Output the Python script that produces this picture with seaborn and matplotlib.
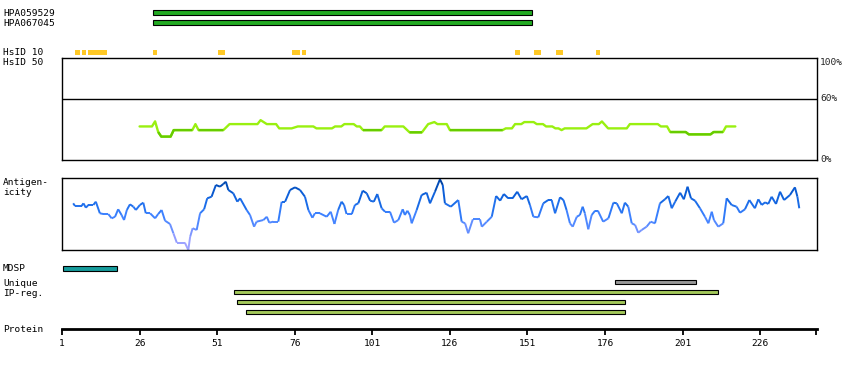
import numpy as np
import matplotlib
matplotlib.use("Agg")
import matplotlib.pyplot as plt
import seaborn as sns
from matplotlib.collections import LineCollection
from matplotlib.colors import LinearSegmentedColormap

# ---------------- data ----------------
antibody_names = ["HPA059529", "HPA067045"]
antibody_start = [30.4, 30.4]
antibody_end = [152.5, 152.5]

hsid10_start = [5.2, 7.5, 9.4, 30.3, 51.3, 75.1, 78.3, 147.0, 153.1, 160.2, 173.1]
hsid10_end = [6.8, 8.8, 15.5, 31.6, 53.5, 77.7, 79.6, 148.6, 155.4, 162.5, 174.4]

ident_pos = [26, 30, 31, 32, 33, 36, 37, 43, 44, 45,
             53, 55, 64, 65, 67, 70, 71, 75, 77, 82,
             83, 88, 89, 91, 92, 95, 96, 97, 98, 104,
             105, 111, 113, 117, 119, 121, 122, 125, 126, 143,
             144, 146, 147, 149, 150, 153, 154, 156, 157, 159,
             160, 161, 162, 163, 170, 172, 174, 175, 177, 183,
             184, 193, 194, 196, 197, 202, 203, 210, 211, 214,
             215, 218]
ident_val = [33.0, 33.0, 38.0, 27.5, 23.0, 23.0, 29.4, 29.4, 35.3, 29.4,
             29.4, 35.3, 35.3, 39.2, 35.3, 35.3, 31.1, 31.1, 33.0, 33.0,
             31.1, 31.1, 33.0, 33.0, 35.3, 35.3, 33.0, 33.0, 29.4, 29.4,
             33.0, 33.0, 27.2, 27.2, 35.3, 37.3, 35.3, 35.3, 29.4, 29.4,
             31.1, 31.1, 35.3, 35.3, 37.3, 37.3, 35.3, 35.3, 33.0, 33.0,
             31.1, 31.1, 29.4, 31.1, 31.1, 35.3, 35.3, 37.9, 31.1, 31.1,
             35.3, 35.3, 33.0, 33.0, 27.5, 27.5, 25.2, 25.2, 27.5, 27.5,
             33.0, 33.0]

antigen_pos = [
    4.6, 5.2, 7.3, 7.9, 8.7, 9.5, 11.1, 11.9, 13.2, 14.3,
    15.9, 17.0, 18.1, 19.1, 20.2, 21.0, 21.9, 22.9, 24.0, 24.8,
    26.1, 27.2, 28.0, 29.4, 31.0, 32.0, 33.1, 34.2, 35.8, 36.9,
    38.0, 40.6, 41.7, 42.3, 43.1, 44.4, 45.5, 46.8, 47.8, 49.2,
    50.6, 51.9, 53.0, 53.8, 54.6, 56.2, 57.5, 58.4, 60.5, 61.6,
    62.9, 63.7, 65.9, 67.0, 67.8, 69.1, 70.7, 71.8, 72.9, 74.5,
    76.1, 77.7, 79.3, 80.4, 81.7, 82.5, 84.1, 86.3, 87.6, 88.8,
    90.0, 91.1, 91.9, 92.7, 94.4, 95.4, 96.5, 97.9, 99.2, 100.3,
    101.5, 102.6, 104.0, 105.1, 106.7, 108.0, 109.4, 110.8, 111.5, 112.3,
    113.1, 113.7, 115.3, 116.9, 118.5, 119.6, 121.2, 122.8, 123.7, 124.4,
    126.3, 128.7, 129.8, 130.9, 131.9, 133.4, 135.7, 136.3, 137.9, 139.5,
    140.9, 142.2, 143.4, 144.8, 146.2, 147.7, 149.1, 150.8, 151.8, 152.9,
    154.5, 156.1, 157.7, 158.8, 159.9, 161.5, 162.6, 163.6, 164.7, 165.6,
    166.9, 167.9, 168.8, 169.5, 170.6, 171.7, 172.8, 173.7, 175.4, 177.1,
    178.7, 179.8, 181.4, 182.4, 183.5, 184.6, 185.7, 186.7, 187.8, 189.4,
    190.7, 192.1, 193.7, 195.3, 196.4, 197.5, 198.6, 200.2, 201.4, 202.6,
    203.7, 205.0, 206.6, 208.2, 209.3, 210.4, 211.1, 212.5, 214.1, 215.2,
    216.8, 218.4, 219.5, 221.1, 222.5, 224.3, 225.4, 226.5, 227.6, 228.6,
    229.7, 231.1, 232.4, 233.7, 235.6, 237.2, 238.0, 238.6]
antigen_val = [
    65.1, 61.4, 61.4, 65.1, 59.0, 62.8, 62.8, 67.4, 51.2, 50.2,
    50.2, 44.2, 46.4, 56.8, 48.8, 41.8, 55.8, 63.7, 60.4, 55.8,
    62.8, 66.0, 51.2, 51.2, 44.2, 50.2, 55.8, 40.9, 36.3, 23.3,
    10.2, 10.2, 0.0, 18.5, 30.3, 27.9, 51.2, 56.8, 72.1, 74.3,
    90.7, 88.3, 92.1, 95.3, 83.7, 79.1, 67.4, 72.1, 55.8, 48.8,
    32.5, 39.5, 41.8, 46.4, 38.1, 39.5, 39.5, 67.4, 67.4, 83.7,
    87.4, 83.7, 74.3, 55.8, 45.0, 51.2, 51.2, 46.4, 53.4, 36.3,
    55.8, 67.4, 62.8, 50.2, 50.2, 62.8, 65.1, 82.7, 79.1, 68.8,
    67.4, 78.1, 58.2, 53.4, 53.4, 38.1, 41.8, 56.8, 48.8, 54.8,
    48.8, 37.2, 55.8, 76.7, 79.9, 65.1, 81.3, 98.6, 90.7, 65.1,
    60.4, 69.7, 39.5, 37.2, 23.3, 42.8, 42.8, 32.5, 39.5, 46.4,
    75.3, 68.8, 78.1, 72.1, 72.1, 81.3, 70.7, 75.3, 62.8, 46.4,
    45.6, 65.1, 69.7, 69.7, 51.2, 73.5, 69.7, 55.8, 37.2, 32.5,
    46.4, 48.8, 60.4, 51.2, 28.9, 48.8, 54.8, 54.8, 39.5, 44.2,
    66.0, 65.1, 51.2, 66.0, 60.4, 37.2, 34.9, 24.1, 27.9, 32.5,
    39.5, 37.2, 65.1, 70.7, 75.3, 58.2, 67.4, 79.9, 70.7, 88.3,
    72.1, 68.8, 58.2, 46.4, 37.2, 53.4, 41.8, 32.5, 37.2, 72.1,
    62.8, 60.4, 52.0, 56.8, 69.7, 58.2, 70.7, 62.8, 66.5, 64.2,
    74.3, 64.2, 81.3, 69.7, 76.7, 87.4, 74.3, 58.2]

mdsp_start = [1.4]
mdsp_end = [18.6]
unique_start = [179.3]
unique_end = [205.2]
ipreg_start = [56.5, 57.5, 60.4]
ipreg_end = [212.3, 182.3, 182.3]

protein_length = 244
tick_positions = [1, 26, 51, 76, 101, 126, 151, 176, 201, 226]
percent_ticks = [0, 60, 100]
percent_labels = ["0%", "60%", "100%"]
ident_threshold = 30

# ---------------- styling ----------------
sns.set_theme(style="white")
plt.rcParams["font.family"] = ["DejaVu Sans Mono"]
FS = 6.8

W, H = 850, 370
fig = plt.figure(figsize=(W / 100, H / 100), dpi=100)

PX_PER_RES = 3.103
X_RES1 = 62.0


def res_at(px):
    return 1 + (px - X_RES1) / PX_PER_RES


def px_axes(x0, y0, x1, y1):
    return fig.add_axes([x0 / W, 1 - y1 / H, (x1 - x0) / W, (y1 - y0) / H])


def ftext(x, y, s, **kw):
    fig.text(x / W, 1 - y / H, s, fontsize=FS, color="black", **kw)


# track axes: x in residues, y in pixel rows (layout)
ax = px_axes(0, 0, W, H)
ax.set_xlim(res_at(0), res_at(W))
ax.set_ylim(H, 0)
ax.axis("off")

GREEN = "#22aa22"
GOLD = "#ffc926"
TEAL = "#169c9c"
GRAY = "#999999"
OLIVE = "#a4c95a"

bar_rows = [12.5, 22.5]
for row, s, e in zip(bar_rows, antibody_start, antibody_end):
    ax.barh(row, e - s, left=s, height=4.6, color=GREEN, edgecolor="black", linewidth=0.8)

ax.barh([52.5] * len(hsid10_start), np.array(hsid10_end) - np.array(hsid10_start),
        left=hsid10_start, height=5, color=GOLD, linewidth=0)

ax.barh(268.2, mdsp_end[0] - mdsp_start[0], left=mdsp_start[0], height=4.8,
        color=TEAL, edgecolor="black", linewidth=0.8)
ax.barh(282.3, unique_end[0] - unique_start[0], left=unique_start[0], height=4.3,
        color=GRAY, edgecolor="black", linewidth=0.8)
for row, s, e in zip([292.3, 302.3, 312.3], ipreg_start, ipreg_end):
    ax.barh(row, e - s, left=s, height=4.3, color=OLIVE, edgecolor="black", linewidth=0.8)

# ---------------- HsID 50 identity panel ----------------
ax_id = px_axes(62, 58.3, 817, 160)
ax_id.set_xlim(1, res_at(817))
ax_id.set_ylim(0, 100)
sns.lineplot(x=ident_pos, y=ident_val, ax=ax_id, color="#99f010", linewidth=1.7,
             estimator=None, sort=False)
dark = np.where(np.array(ident_val) < ident_threshold, ident_val, np.nan)
ax_id.plot(ident_pos, dark, color="#66cc00", linewidth=1.7, solid_capstyle="butt")
ax_id.axhline(60, color="black", linewidth=1.0)
ax_id.set_xticks([])
ax_id.set_yticks([])
ax_id.set_xlabel("")
ax_id.set_ylabel("")
for sp in ax_id.spines.values():
    sp.set_visible(True)
    sp.set_color("black")
    sp.set_linewidth(1.0)
ytr = ax_id.get_yaxis_transform()
for v, lab in zip(percent_ticks, percent_labels):
    va = "top" if v == 100 else "center"
    ax_id.text(1.004, v, lab, transform=ytr, fontsize=FS, va=va, ha="left")

# ---------------- antigenicity panel ----------------
ax_ag = px_axes(62, 178.3, 817, 250)
ax_ag.set_xlim(1, res_at(817))
ax_ag.set_ylim(0, 100)
cmap = LinearSegmentedColormap.from_list(
    "ag", [(0.0, "#a8a8ff"), (0.2, "#8c9aff"), (0.35, "#5a8cff"),
           (0.5, "#3a80ff"), (0.65, "#1a6ce8"), (0.8, "#0a5cd6"),
           (0.93, "#0048b0"), (1.0, "#003380")])
pos = np.array(antigen_pos)
val = np.array(antigen_val)
segs = np.stack([np.column_stack([pos[:-1], val[:-1]]),
                 np.column_stack([pos[1:], val[1:]])], axis=1)
mid = (val[:-1] + val[1:]) / 2 / 100
lc = LineCollection(segs, colors=cmap(mid), linewidths=1.4, clip_on=False)
ax_ag.add_collection(lc)
ax_ag.set_xticks([])
ax_ag.set_yticks([])
for sp in ax_ag.spines.values():
    sp.set_visible(True)
    sp.set_color("black")
    sp.set_linewidth(1.0)

# ---------------- protein axis ----------------
ax_p = fig.add_axes([62 / W, 1 - 329 / H, 755 / W, 0.0001])
ax_p.set_xlim(1, res_at(817))
ax_p.set_yticks([])
for k in ["top", "left", "right"]:
    ax_p.spines[k].set_visible(False)
ax_p.spines["bottom"].set_linewidth(2.0)
ax_p.spines["bottom"].set_color("black")
ax_p.set_xticks(tick_positions + [protein_length])
ax_p.set_xticklabels([str(t) for t in tick_positions] + [""])
ax_p.tick_params(axis="x", direction="out", length=4.0, width=1.3, pad=3.0,
                 labelsize=FS, colors="black", bottom=True)
ax_p.patch.set_visible(False)

# ---------------- labels ----------------
ftext(3, 15.6, antibody_names[0], va="baseline")
ftext(3, 25.6, antibody_names[1], va="baseline")
ftext(3, 55.2, "HsID 10", va="baseline")
ftext(3, 65.2, "HsID 50", va="baseline")
ftext(3, 185.2, "Antigen-", va="baseline")
ftext(3, 195.2, "icity", va="baseline")
ftext(3, 270.7, "MDSP", va="baseline")
ftext(3, 285.5, "Unique", va="baseline")
ftext(3, 295.5, "IP-reg.", va="baseline")
ftext(3, 332.3, "Protein", va="baseline")

fig.savefig("out.png", dpi=100)
